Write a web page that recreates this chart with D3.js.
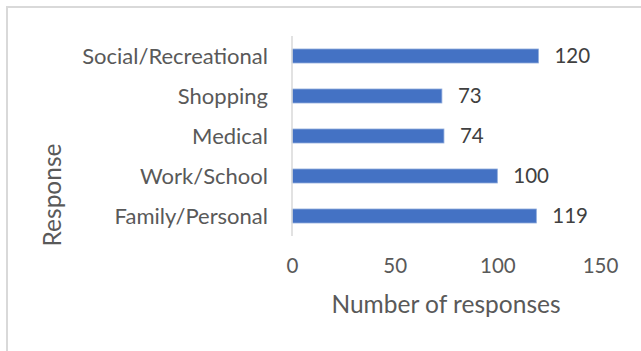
<!DOCTYPE html>
<html>
<head>
<meta charset="utf-8">
<script src="https://cdn.jsdelivr.net/npm/d3@7"></script>
<style>
  html, body { margin: 0; padding: 0; background: #ffffff; }
  svg text { font-family: Lato, "Open Sans", sans-serif; }
</style>
</head>
<body>
<svg id="chart" width="641" height="351"></svg>
<script>
// Trip purposes (top to bottom) and number of responses for each
const categories = ["Social/Recreational", "Shopping", "Medical", "Work/School", "Family/Personal"];
const responses = [120, 73, 74, 100, 119];
const xTicks = [0, 50, 100, 150];
const xTitle = "Number of responses";
const yTitle = "Response";

const svg = d3.select("#chart");

// Chart frame
svg.append("rect")
  .attr("x", 7).attr("y", 7)
  .attr("width", 660).attr("height", 360)
  .attr("fill", "#ffffff")
  .attr("stroke", "#d9d9d9")
  .attr("stroke-width", 2);

const plot = { left: 292, right: 600, top: 36, bottom: 236 };

const x = d3.scaleLinear().domain([0, 150]).range([plot.left, plot.right]);
const y = d3.scaleBand()
  .domain(categories)
  .range([plot.top, plot.bottom])
  .paddingInner(0.65)
  .paddingOuter(0.325);

// Bars
svg.append("g").selectAll("rect")
  .data(categories)
  .join("rect")
  .attr("x", x(0))
  .attr("y", d => y(d))
  .attr("width", (d, i) => x(responses[i]) - x(0))
  .attr("height", y.bandwidth())
  .attr("fill", "#4472c4")
  .attr("stroke", "#8eaadb")
  .attr("stroke-width", 0.8);

// Vertical category axis line
svg.append("line")
  .attr("x1", x(0)).attr("x2", x(0))
  .attr("y1", plot.top).attr("y2", plot.bottom)
  .attr("stroke", "#d9d9d9")
  .attr("stroke-width", 1.5);

// Category labels
const yAxis = d3.axisLeft(y).tickSize(0).tickPadding(24);
const yg = svg.append("g").attr("transform", `translate(${x(0)},0)`).call(yAxis);
yg.select(".domain").remove();
yg.selectAll("text")
  .attr("font-size", 22)
  .attr("font-family", "Lato, sans-serif")
  .attr("fill", "#595959")
  .attr("dy", "0.36em");

// Value axis tick labels (no axis line)
const xAxis = d3.axisBottom(x).tickValues(xTicks).tickSize(0).tickPadding(0);
const xg = svg.append("g").attr("transform", `translate(0,${plot.bottom})`).call(xAxis);
xg.select(".domain").remove();
xg.selectAll("text")
  .attr("font-size", 20.5)
  .attr("font-family", "Lato, sans-serif")
  .attr("fill", "#595959")
  .attr("dy", null)
  .attr("y", 37);

// Data labels
svg.append("g").selectAll("text")
  .data(categories)
  .join("text")
  .attr("x", (d, i) => x(responses[i]) + 16)
  .attr("y", d => y(d) + y.bandwidth() / 2)
  .attr("dy", "0.36em")
  .attr("font-size", 20.5)
  .attr("fill", "#404040")
  .text((d, i) => responses[i]);

// Axis titles
svg.append("text")
  .attr("x", (plot.left + plot.right) / 2)
  .attr("y", 313)
  .attr("text-anchor", "middle")
  .attr("font-size", 24.5)
  .attr("fill", "#595959")
  .text(xTitle);

svg.append("text")
  .attr("transform", "translate(61,195) rotate(-90)")
  .attr("text-anchor", "middle")
  .attr("font-size", 24.5)
  .attr("fill", "#595959")
  .text(yTitle);
</script>
</body>
</html>
